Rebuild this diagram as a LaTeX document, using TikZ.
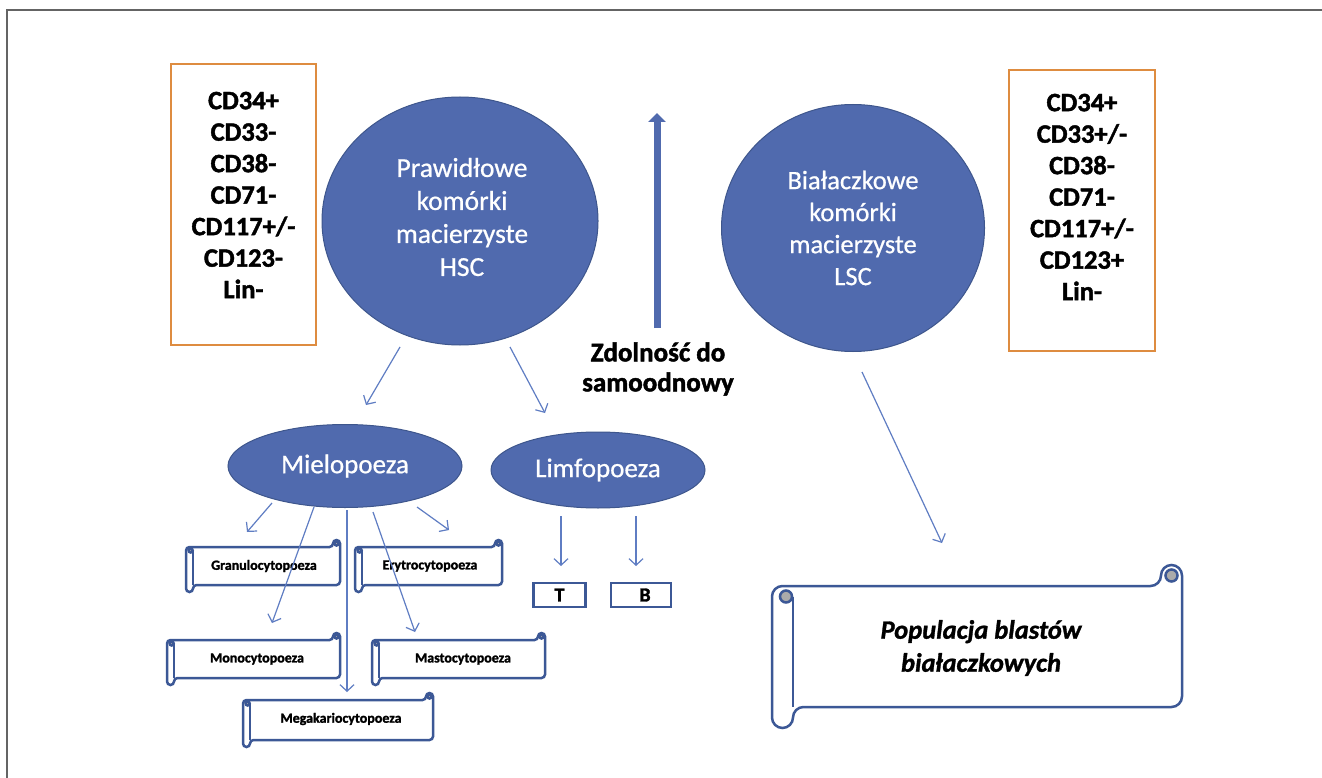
\documentclass[tikz,border=0pt]{standalone}
\usepackage{fontspec}
\setmainfont{Carlito}
\newfontfamily\heavyfont{Carlito}[BoldFeatures={FakeBold=1.6},BoldItalicFeatures={FakeBold=1.2}]
\newfontfamily\semifont{Carlito}[FakeBold=0.7]
\usetikzlibrary{arrows.meta,shapes.geometric}
\definecolor{cellblue}{RGB}{80,106,174}
\definecolor{celledge}{RGB}{62,86,140}
\definecolor{arrowblue}{RGB}{95,125,195}
\definecolor{scrollblue}{RGB}{60,88,150}
\definecolor{markorange}{RGB}{222,140,64}
\definecolor{curlgray}{RGB}{170,170,170}
\definecolor{framegray}{RGB}{100,100,100}
\tikzset{
  cell/.style={ellipse, fill=cellblue, draw=celledge, line width=1pt, text=white, align=center, inner sep=0pt},
  markbox/.style={draw=markorange, line width=2.5pt, fill=white, inner sep=0pt},
  marktext/.style={align=center, font=\heavyfont\bfseries\fontsize{26.5}{31.5}\selectfont, inner sep=0pt},
  scrollline/.style={draw=scrollblue, line width=2.5pt},
  scrolltext/.style={font=\heavyfont\bfseries\fontsize{14}{15}\selectfont, inner sep=0pt},
  thinarrow/.style={draw=arrowblue, line width=1.2pt, -{Straight Barb[length=6.5pt,width=14pt]}},
  lymphbox/.style={draw=scrollblue, line width=2.5pt, fill=white, font=\heavyfont\bfseries\fontsize{20}{20}\selectfont, inner sep=0pt}
}
\newcommand{\hscroll}[5]{%
  \pgfmathsetmacro{\sa}{#5}\pgfmathsetmacro{\sr}{#5/2}\pgfmathsetmacro{\sc}{#5/3.5}%
  \filldraw[scrollline,fill=white,rounded corners=\sr pt] (#1,{#2+\sa}) -- (#1,#4) -- ({#1+\sa},#4) -- ({#1+\sa},{#4-\sa}) -- (#3,{#4-\sa}) -- (#3,#2) -- ({#3-\sa},#2) -- ({#3-\sa},{#2+\sa}) -- cycle;
  \draw[scrollline] ({#1+\sa},{#2+1.5*\sa}) -- ({#1+\sa},{#4-\sa});
  \filldraw[scrollline,fill=curlgray] ({#1+2*\sa/3},{#2+1.5*\sa}) circle[radius=\sc pt];
  \filldraw[scrollline,fill=curlgray] ({#3-\sa/2},{#2+\sa/2}) circle[radius=\sc pt];
}
\begin{document}
\begin{tikzpicture}[x=1pt,y=-1pt]
\useasboundingbox (0,0) rectangle (1322,778);
\fill[white] (0,0) rectangle (1322,778);
% frame
\draw[framegray, line width=1.5pt] (7,778) -- (7,10) -- (1322,10);

% marker boxes
\node[markbox, minimum width=145pt, minimum height=281pt] (lbox) at (243.5,204.5) {};
\node[marktext] (ltext) at (243.5,195) {CD34+\\CD33-\\CD38-\\CD71-\\CD117+/-\\CD123-\\Lin-};
\node[markbox, minimum width=146pt, minimum height=281pt] (rbox) at (1082,210.5) {};
\node[marktext] (rtext) at (1082,197) {CD34+\\CD33+/-\\CD38-\\CD71-\\CD117+/-\\CD123+\\Lin-};

% stem cells
\node[cell, minimum width=276pt, minimum height=248pt, font=\semifont\fontsize{27.5}{33}\selectfont] (hsc) at (460,221) {};
\node[text=white, align=center, inner sep=0pt, font=\semifont\fontsize{27.5}{33}\selectfont] (hsctext) at (462,217) {Prawidłowe\\komórki\\macierzyste\\HSC};
\node[cell, minimum width=263pt, minimum height=247pt, font=\semifont\fontsize{26.5}{32}\selectfont] (lsc) at (853,228) {Białaczkowe\\komórki\\macierzyste\\LSC};

% self-renewal arrow
\coordinate (srbot) at (657,328);
\coordinate (srtop) at (657,113);
\draw[cellblue, line width=7pt, -{Triangle[length=9pt,width=17pt]}] (srbot) -- (srtop);
\node[align=center, font=\heavyfont\bfseries\fontsize{27}{30}\selectfont, inner sep=0pt] (srtext) at (658,369) {Zdolność do\\samoodnowy};

% lineages
\node[cell, minimum width=234pt, minimum height=83pt, font=\semifont\fontsize{27}{30}\selectfont] (mielo) at (345,466) {Mielopoeza};
\node[cell, minimum width=214pt, minimum height=76pt, font=\semifont\fontsize{27}{30}\selectfont] (limfo) at (598,470) {Limfopoeza};

% scrolls
\hscroll{186}{540}{340}{592}{7}
\node[scrolltext] (granulo) at (264,566) {Granulocytopoeza};
\hscroll{355}{540}{502}{592}{7}
\node[scrolltext] (erytro) at (430,566) {Erytrocytopoeza};
\hscroll{167}{633}{340}{685}{7}
\node[scrolltext] (mono) at (257,659) {Monocytopoeza};
\hscroll{372}{633}{545}{685}{7}
\node[scrolltext] (masto) at (463,659) {Mastocytopoeza};
\hscroll{243}{693}{433}{747}{7}
\node[scrolltext] (megak) at (341,719) {Megakariocytopoeza};
\hscroll{772}{565}{1182}{728}{21}
\node[align=center, font=\heavyfont\bfseries\itshape\fontsize{26.5}{33}\selectfont, inner sep=0pt] (blasty) at (981,648) {Populacja blastów\\białaczkowych};

% T and B
\node[lymphbox, minimum width=52pt, minimum height=24pt] (tcell) at (559.5,595) {T};
\node[lymphbox, minimum width=60pt, minimum height=24pt] (bcell) at (641,595) {\hspace{8pt}B};

% arrow coordinates
\coordinate (h1s) at (400,347); \coordinate (h1e) at (366,405);
\coordinate (h2s) at (510,347); \coordinate (h2e) at (545,413);
\coordinate (m1s) at (272,503); \coordinate (m1e) at (247,532);
\coordinate (m2s) at (314,507); \coordinate (m2e) at (272,623);
\coordinate (m3s) at (347,510); \coordinate (m3e) at (347,692);
\coordinate (m4s) at (373,512); \coordinate (m4e) at (415,632);
\coordinate (m5s) at (417,507); \coordinate (m5e) at (449,530);
\coordinate (l1s) at (561,516); \coordinate (l1e) at (561,566);
\coordinate (l2s) at (636,516); \coordinate (l2e) at (636,566);
\coordinate (ls) at (862,372); \coordinate (le) at (942,543);

\draw[thinarrow] (h1s) -- (h1e);
\draw[thinarrow] (h2s) -- (h2e);
\draw[thinarrow] (m1s) -- (m1e);
\draw[thinarrow] (m2s) -- (m2e);
\draw[thinarrow] (m3s) -- (m3e);
\draw[thinarrow] (m4s) -- (m4e);
\draw[thinarrow] (m5s) -- (m5e);
\draw[thinarrow] (l1s) -- (l1e);
\draw[thinarrow] (l2s) -- (l2e);
\draw[thinarrow] (ls) -- (le);
\end{tikzpicture}
\end{document}
